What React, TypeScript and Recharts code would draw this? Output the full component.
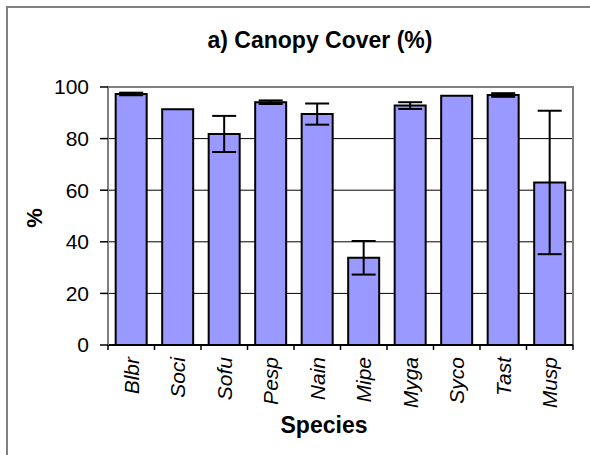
import React from 'react'
import { BarChart, Bar, XAxis, YAxis, CartesianGrid, ErrorBar, ReferenceArea } from 'recharts'

const species = ['Blbr', 'Soci', 'Sofu', 'Pesp', 'Nain', 'Mipe', 'Myga', 'Syco', 'Tast', 'Musp']
const cover = [97.3, 91.4, 81.8, 94.1, 89.5, 33.8, 92.8, 96.6, 96.9, 63.0]
const coverErr = [0.5, 0, 7, 0.7, 4.1, 6.5, 1.3, 0, 0.7, 27.8]
const yTicks = [0, 20, 40, 60, 80, 100]

const data = species.map((name, i) => ({ name, cover: cover[i], err: coverErr[i] }))

const FONT = '"Liberation Sans", Arial, sans-serif'
const PLOT_LEFT = 108
const PLOT_RIGHT = 573
const BAND = (PLOT_RIGHT - PLOT_LEFT) / species.length

function SpeciesTick(props: any) {
  const { x, y, payload, index } = props
  const left = x - BAND / 2
  return (
    <g>
      <line x1={left} y1={y - 8} x2={left} y2={y - 3} stroke="#000" strokeWidth={1.5} />
      {index === species.length - 1 && (
        <line x1={x + BAND / 2} y1={y - 8} x2={x + BAND / 2} y2={y - 3} stroke="#000" strokeWidth={1.5} />
      )}
      <text
        transform={`translate(${x},${y + 4}) rotate(-90)`}
        textAnchor="end"
        dy="0.36em"
        fontFamily={FONT}
        fontSize={21}
        fontStyle="italic"
        fill="#000"
      >
        {payload.value}
      </text>
    </g>
  )
}

export default function App() {
  return (
    <div style={{ position: 'fixed', left: 0, top: 0, width: 590, height: 455, overflow: 'hidden', background: '#fff' }}>
      <div
        style={{
          position: 'absolute',
          left: 6,
          top: 6,
          width: 700,
          height: 700,
          borderLeft: '2px solid #808080',
          borderTop: '2px solid #808080',
        }}
      />
      <div
        style={{
          position: 'absolute',
          left: 0,
          width: 640,
          top: 26,
          textAlign: 'center',
          fontFamily: FONT,
          fontWeight: 'bold',
          fontSize: 23,
          lineHeight: '28px',
        }}
      >
        a) Canopy Cover (%)
      </div>
      <div style={{ position: 'absolute', left: 0, top: 0 }}>
        <BarChart
          width={590}
          height={455}
          data={data}
          margin={{ top: 87, right: 590 - PLOT_RIGHT, left: 0, bottom: 0 }}
          barCategoryGap="16.5%"
        >
          <CartesianGrid horizontal vertical={false} stroke="#000" strokeWidth={1} />
          <ReferenceArea y1={0} y2={100} fill="none" stroke="#808080" strokeWidth={2} ifOverflow="visible" />
          <XAxis
            dataKey="name"
            height={110}
            tickLine={false}
            axisLine={{ stroke: '#000', strokeWidth: 2 }}
            tick={<SpeciesTick />}
            interval={0}
          />
          <YAxis
            width={PLOT_LEFT}
            domain={[0, 100]}
            ticks={yTicks}
            tickSize={8}
            tickMargin={11}
            axisLine={{ stroke: '#808080', strokeWidth: 2 }}
            tickLine={{ stroke: '#000', strokeWidth: 1.5 }}
            tick={{ fill: '#000', fontFamily: FONT, fontSize: 21 }}
          />
          <Bar dataKey="cover" fill="#9999ff" stroke="#000" strokeWidth={2} isAnimationActive={false}>
            <ErrorBar dataKey="err" width={12} stroke="#000" strokeWidth={2} />
          </Bar>
        </BarChart>
      </div>
      <div
        style={{
          position: 'absolute',
          left: 35 - 30,
          top: 218 - 14,
          width: 60,
          height: 28,
          lineHeight: '28px',
          textAlign: 'center',
          transform: 'rotate(-90deg)',
          fontFamily: FONT,
          fontWeight: 'bold',
          fontSize: 22,
        }}
      >
        %
      </div>
      <div
        style={{
          position: 'absolute',
          left: 324 - 80,
          width: 160,
          top: 425 - 14,
          lineHeight: '28px',
          textAlign: 'center',
          fontFamily: FONT,
          fontWeight: 'bold',
          fontSize: 23,
        }}
      >
        Species
      </div>
    </div>
  )
}
